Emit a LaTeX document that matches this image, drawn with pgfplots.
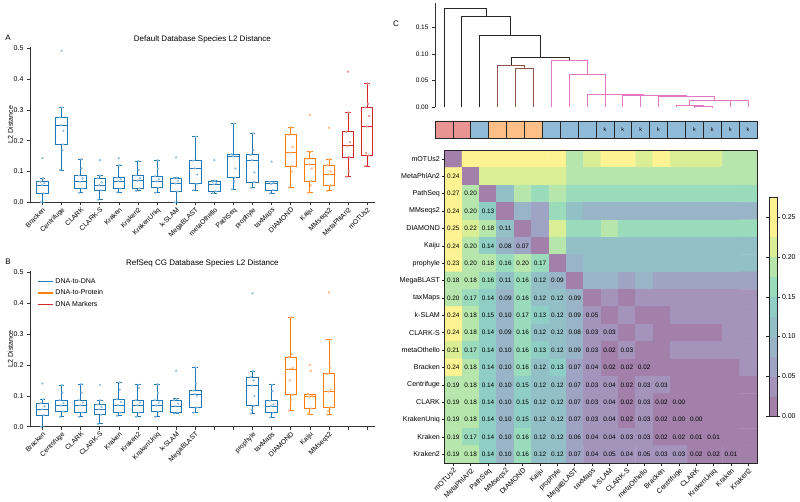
\documentclass[border=0pt]{standalone}
\usepackage{fontspec}
\setmainfont{Liberation Sans}
\usepackage{pgfplots}
\pgfplotsset{compat=1.18}
\usepgfplotslibrary{statistics}
\pgfkeys{/pgf/number format/assume math mode=true}
\definecolor{cblue}{HTML}{1F77B4}
\definecolor{corange}{HTML}{FF7F0E}
\definecolor{cred}{HTML}{D62728}
\definecolor{cbrown}{HTML}{8C564B}
\definecolor{cpink}{HTML}{E377C2}
\definecolor{sblue}{RGB}{143,187,217}
\definecolor{sorange}{RGB}{255,191,134}
\definecolor{sred}{RGB}{234,147,147}
\definecolor{pblue}{RGB}{143,187,217}
\definecolor{porange}{RGB}{255,180,120}
\definecolor{pred}{RGB}{234,140,140}
\newcommand{\fs}[1]{\fontsize{#1}{#1}\selectfont}
\pgfplotsset{
  every axis/.append style={scale only axis, font=\fs{7}},
  every axis title shift=0pt,
  boxax/.style={
    xmin=-0.65, xmax=17.4, ymin=0, ymax=0.505,
    axis x line*=bottom, axis y line*=left,
    axis line style={black!80, line width=0.8pt},
    tick style={black!80, line width=0.6pt}, tick align=outside, major tick length=3pt,
    xtick={0,...,17}, ytick={0,0.1,0.2,0.3,0.4,0.5},
    yticklabel style={/pgf/number format/fixed, /pgf/number format/fixed zerofill, /pgf/number format/precision=1, font=\fs{7}},
    scaled y ticks=false,
    xticklabel style={rotate=45, anchor=north east, inner sep=1pt, font=\fs{6.8}},
    ylabel={L2 Distance},
    every axis y label/.style={at={(axis description cs:-0.057,0.5)}, rotate=90, anchor=center, font=\fs{7}},
    title style={font=\fs{8}},
    clip=false,
  },
  dend/.style={line width=0.9pt, #1},
}
\newcommand{\bx}[7]{\addplot[#1, line width=0.9pt, solid, mark=none, boxplot prepared={draw direction=y, draw position=#2, lower whisker=#3, lower quartile=#4, median=#5, upper quartile=#6, upper whisker=#7, box extend=0.6, whisker extend=0.3}] coordinates {};}
\begin{document}
\begin{tikzpicture}
\useasboundingbox (0,0) rectangle (800pt,502pt);
\node[font=\fs{8}] at (8pt,464pt) {A};
\node[font=\fs{8}] at (8pt,240pt) {B};
\node[font=\fs{8}] at (396pt,478pt) {C};
% ---------------- Panel A
\begin{axis}[boxax, at={(30pt,299.7pt)}, anchor=south west, width=344.8pt, height=155.5pt,
  title={Default Database Species L2 Distance},
  xticklabels={Bracken,Centrifuge,CLARK,CLARK-S,Kraken,Kraken2,KrakenUniq,k-SLAM,MegaBLAST,metaOthello,PathSeq,prophyle,taxMaps,DIAMOND,Kaiju,MMseqs2,MetaPhlAn2,mOTUs2}]
\bx{cblue}{0}{0}{0.029}{0.056}{0.067}{0.078}
\bx{cblue}{1}{0.105}{0.188}{0.251}{0.276}{0.308}
\bx{cblue}{2}{0.031}{0.045}{0.067}{0.087}{0.14}
\bx{cblue}{3}{0.008}{0.039}{0.056}{0.078}{0.087}
\bx{cblue}{4}{0.032}{0.045}{0.069}{0.08}{0.121}
\bx{cblue}{5}{0.037}{0.045}{0.07}{0.087}{0.134}
\bx{cblue}{6}{0.031}{0.047}{0.068}{0.085}{0.137}
\bx{cblue}{7}{0}{0.035}{0.061}{0.078}{0.08}
\bx{cblue}{8}{0.04}{0.06}{0.11}{0.135}{0.213}
\bx{cblue}{9}{0.029}{0.036}{0.058}{0.067}{0.07}
\bx{cblue}{10}{0.042}{0.08}{0.15}{0.156}{0.256}
\bx{cblue}{11}{0.047}{0.066}{0.137}{0.154}{0.224}
\bx{cblue}{12}{0.029}{0.04}{0.06}{0.067}{0.067}
\bx{corange}{13}{0.048}{0.118}{0.161}{0.219}{0.244}
\bx{corange}{14}{0.031}{0.069}{0.123}{0.142}{0.164}
\bx{corange}{15}{0.037}{0.055}{0.091}{0.12}{0.14}
\bx{cred}{16}{0.083}{0.147}{0.183}{0.229}{0.292}
\bx{cred}{17}{0.118}{0.152}{0.246}{0.308}{0.386}
\addplot[only marks, mark=*, mark size=0.9pt, color=pblue] coordinates {
(-0.08,0) (0.07,0.029) (-0.03,0.056) (0.1,0.062) (-0.1,0.067) (0.03,0.078) (0,0.143)
(0.92,0.105) (1.07,0.188) (0.97,0.251) (1.1,0.232) (0.9,0.276) (1.03,0.308) (1,0.492) (1.05,0.17)
(1.92,0.031) (2.07,0.045) (1.97,0.067) (2.1,0.077) (1.9,0.087) (2.03,0.14) (2.05,0.11)
(2.92,0.008) (3.07,0.039) (2.97,0.056) (3.1,0.065) (2.9,0.078) (3.03,0.087) (3,0.137)
(3.92,0.032) (4.07,0.045) (3.97,0.069) (4.1,0.075) (3.9,0.08) (4.03,0.121) (4,0.143)
(4.92,0.037) (5.07,0.045) (4.97,0.07) (5.1,0.078) (4.9,0.087) (5.03,0.134) (5.05,0.105)
(5.92,0.031) (6.07,0.047) (5.97,0.068) (6.1,0.075) (5.9,0.085) (6.03,0.137) (6.05,0.108)
(6.92,0) (7.07,0.035) (6.97,0.061) (7.1,0.07) (6.9,0.078) (7.03,0.08) (7,0.146)
(7.92,0.04) (8.07,0.06) (7.97,0.11) (8.1,0.09) (7.9,0.135) (8.03,0.213)
(8.92,0.029) (9.07,0.036) (8.97,0.058) (9.1,0.062) (8.9,0.067) (9.03,0.07) (9,0.137)
(9.92,0.042) (10.07,0.08) (9.97,0.15) (10.1,0.11) (9.9,0.156) (10.03,0.256) (10.05,0.068)
(10.92,0.047) (11.07,0.066) (10.97,0.137) (11.1,0.097) (10.9,0.154) (11.03,0.224) (11.05,0.17)
(11.92,0.029) (12.07,0.04) (11.97,0.06) (12.1,0.063) (11.9,0.067) (12,0.132)};
\addplot[only marks, mark=*, mark size=0.9pt, color=porange] coordinates {
(12.92,0.048) (13.07,0.118) (12.97,0.161) (13.1,0.18) (12.9,0.219) (13.03,0.244) (13.05,0.1)
(13.92,0.031) (14.07,0.069) (13.97,0.123) (14.1,0.11) (13.9,0.142) (14.03,0.164) (14,0.284) (14.05,0.055)
(14.92,0.037) (15.07,0.055) (14.97,0.091) (15.1,0.1) (14.9,0.12) (15.03,0.14) (15,0.242)};
\addplot[only marks, mark=*, mark size=0.9pt, color=pred] coordinates {
(15.92,0.083) (16.07,0.147) (15.97,0.183) (16.1,0.195) (15.9,0.229) (16.03,0.292) (16,0.424) (16.05,0.1)
(16.92,0.118) (17.07,0.152) (16.97,0.246) (17.1,0.28) (16.9,0.308) (17.03,0.386) (17.05,0.32) (16.95,0.16)};
\end{axis}
% ---------------- Panel B
\begin{axis}[boxax, at={(30pt,75.3pt)}, anchor=south west, width=344.8pt, height=155.9pt,
  title={RefSeq CG Database Species L2 Distance},
  xticklabels={Bracken,Centrifuge,CLARK,CLARK-S,Kraken,Kraken2,KrakenUniq,k-SLAM,MegaBLAST,{},{},prophyle,taxMaps,DIAMOND,Kaiju,MMseqs2,{},{}},
  legend style={at={(0.02,0.965)}, anchor=north west, draw=none, fill=none, font=\fs{7}, row sep=1pt, inner sep=0pt, cells={anchor=west}},
  legend image code/.code={\draw[#1, line width=1.4pt] (0pt,0pt) -- (15pt,0pt);}]
\addlegendimage{cblue}\addlegendentry{DNA-to-DNA}
\addlegendimage{corange}\addlegendentry{DNA-to-Protein}
\addlegendimage{cred}\addlegendentry{DNA Markers}
\bx{cblue}{0}{0}{0.038}{0.056}{0.076}{0.089}
\bx{cblue}{1}{0.032}{0.049}{0.068}{0.086}{0.135}
\bx{cblue}{2}{0.032}{0.046}{0.069}{0.086}{0.138}
\bx{cblue}{3}{0.009}{0.039}{0.056}{0.072}{0.086}
\bx{cblue}{4}{0.035}{0.046}{0.07}{0.089}{0.143}
\bx{cblue}{5}{0.032}{0.046}{0.07}{0.086}{0.136}
\bx{cblue}{6}{0.032}{0.048}{0.069}{0.086}{0.138}
\bx{cblue}{7}{0.043}{0.046}{0.067}{0.086}{0.09}
\bx{cblue}{8}{0.045}{0.063}{0.106}{0.117}{0.192}
\bx{cblue}{11}{0.043}{0.068}{0.133}{0.161}{0.18}
\bx{cblue}{12}{0.03}{0.045}{0.067}{0.084}{0.136}
\bx{corange}{13}{0.052}{0.103}{0.187}{0.225}{0.354}
\bx{corange}{14}{0.041}{0.059}{0.097}{0.106}{0.106}
\bx{corange}{15}{0.039}{0.063}{0.114}{0.171}{0.281}
\addplot[only marks, mark=*, mark size=0.9pt, color=pblue] coordinates {
(-0.08,0) (0.07,0.038) (-0.03,0.056) (0.1,0.066) (-0.1,0.076) (0.03,0.089) (0,0.14)
(0.92,0.032) (1.07,0.049) (0.97,0.068) (1.1,0.077) (0.9,0.086) (1.03,0.135) (1.05,0.11)
(1.92,0.032) (2.07,0.046) (1.97,0.069) (2.1,0.077) (1.9,0.086) (2.03,0.138) (2.05,0.11)
(2.92,0.009) (3.07,0.039) (2.97,0.056) (3.1,0.064) (2.9,0.072) (3.03,0.086) (3,0.135)
(3.92,0.035) (4.07,0.046) (3.97,0.07) (4.1,0.08) (3.9,0.089) (4.03,0.143) (4.05,0.12)
(4.92,0.032) (5.07,0.046) (4.97,0.07) (5.1,0.078) (4.9,0.086) (5.03,0.136) (5.05,0.125)
(5.92,0.032) (6.07,0.048) (5.97,0.069) (6.1,0.078) (5.9,0.086) (6.03,0.138) (6.05,0.108)
(6.92,0.043) (7.07,0.046) (6.97,0.067) (7.1,0.075) (6.9,0.086) (7.03,0.09) (7,0.181)
(7.92,0.045) (8.07,0.063) (7.97,0.106) (8.1,0.1) (7.9,0.117) (8.03,0.192) (8.05,0.14)
(10.92,0.043) (11.07,0.068) (10.97,0.133) (11.1,0.1) (10.9,0.161) (11.03,0.18) (11,0.432) (11.05,0.15) (10.95,0.055)
(11.92,0.03) (12.07,0.045) (11.97,0.067) (12.1,0.072) (11.9,0.084) (12.03,0.136) (12.05,0.115)};
\addplot[only marks, mark=*, mark size=0.9pt, color=porange] coordinates {
(12.92,0.052) (13.07,0.103) (12.97,0.187) (13.1,0.19) (12.9,0.225) (13.03,0.354) (13.05,0.235) (12.95,0.15) (13.02,0.087)
(13.92,0.041) (14.07,0.059) (13.97,0.097) (14.1,0.1) (13.9,0.106) (14,0.2) (14.05,0.181) (13.95,0.045)
(14.92,0.039) (15.07,0.063) (14.97,0.114) (15.1,0.12) (14.9,0.171) (15.03,0.281) (15,0.435) (15.05,0.19) (14.95,0.05)};
\end{axis}
% ---------------- Dendrogram
\begin{axis}[at={(435pt,394.7pt)}, anchor=south west, width=322pt, height=104pt,
  xmin=-0.5, xmax=17.5, ymin=0, ymax=0.195, clip=false,
  axis y line*=left, axis x line=none,
  axis line style={black!80, line width=0.8pt},
  tick style={black!80, line width=0.6pt}, tick align=outside, major tick length=3pt,
  ytick={0,0.05,0.1,0.15}, scaled y ticks=false,
  yticklabel style={/pgf/number format/fixed, /pgf/number format/fixed zerofill, /pgf/number format/precision=2, font=\fs{6.5}}]
\addplot[dend=black!85] coordinates {(0,0) (0,0.186) (2.35,0.186) (2.35,0.171)};
\addplot[dend=black!85] coordinates {(1,0) (1,0.171) (3.69,0.171) (3.69,0.1356)};
\addplot[dend=black!85] coordinates {(2,0) (2,0.1356) (5.38,0.1356) (5.38,0.093)};
\addplot[dend=black!85] coordinates {(3.75,0.079) (3.75,0.093) (7.01,0.093) (7.01,0.0875)};
\addplot[dend=cbrown] coordinates {(3,0) (3,0.079) (4.5,0.079) (4.5,0.0725)};
\addplot[dend=cbrown] coordinates {(4,0) (4,0.0725) (5,0.0725) (5,0)};
\addplot[dend=cpink] coordinates {(6,0) (6,0.0875) (8.02,0.0875) (8.02,0.0625)};
\addplot[dend=cpink] coordinates {(7,0) (7,0.0625) (9.04,0.0625) (9.04,0.025)};
\addplot[dend=cpink] coordinates {(8,0) (8,0.025) (10.07,0.025) (10.07,0.0245)};
\addplot[dend=cpink] coordinates {(9,0) (9,0.0245) (11.14,0.0245) (11.14,0.023)};
\addplot[dend=cpink] coordinates {(10,0) (10,0.023) (12.28,0.023) (12.28,0.0218)};
\addplot[dend=cpink] coordinates {(11,0) (11,0.0218) (13.56,0.0218) (13.56,0.0199)};
\addplot[dend=cpink] coordinates {(12,0) (12,0.0199) (15.125,0.0199) (15.125,0.0131)};
\addplot[dend=cpink] coordinates {(13.75,0.0043) (13.75,0.0131) (16.5,0.0131) (16.5,0.0122)};
\addplot[dend=cpink] coordinates {(16,0) (16,0.0122) (17,0.0122) (17,0)};
\addplot[dend=cpink] coordinates {(13,0) (13,0.0043) (14.5,0.0043) (14.5,0.001)};
\addplot[dend=cpink] coordinates {(14,0) (14,0.001) (15,0.001) (15,0)};
\end{axis}
% ---------------- Colour strip
\begin{axis}[at={(435pt,363.7pt)}, anchor=south west, width=322pt, height=17.3pt,
  xmin=-0.5, xmax=17.5, ymin=0, ymax=1, hide axis, clip=false]
\addplot[ybar, bar width=1, bar shift=0pt, draw=black!85, line width=0.7pt, fill=sred] coordinates {(0,1) (1,1)};
\addplot[ybar, bar width=1, bar shift=0pt, draw=black!85, line width=0.7pt, fill=sorange] coordinates {(3,1) (4,1) (5,1)};
\addplot[ybar, bar width=1, bar shift=0pt, draw=black!85, line width=0.7pt, fill=sblue] coordinates {(2,1) (6,1) (7,1) (8,1) (9,1) (10,1) (11,1) (12,1) (13,1) (14,1) (15,1) (16,1) (17,1)};
\addplot[draw=none, mark=none, nodes near coords, point meta=explicit symbolic, nodes near coords align={center},
  every node near coord/.append style={font=\fs{5.5}, inner sep=0pt}] coordinates {
(9,0.5)[k] (10,0.5)[k] (11,0.5)[k] (12,0.5)[k] (14,0.5)[k] (15,0.5)[k] (16,0.5)[k] (17,0.5)[k]};
\end{axis}
% ---------------- Heatmap
\begin{axis}[at={(444.6pt,39pt)}, anchor=south west, width=312.4pt, height=312.7pt,
  xmin=-0.5, xmax=17.5, ymin=-0.5, ymax=17.5, y dir=reverse, enlargelimits=false,
  axis on top, axis line style={black!85, line width=0.8pt},
  xtick={0,...,17}, ytick={0,...,17},
  xticklabels={mOTUs2,MetaPhlAn2,PathSeq,MMseqs2,DIAMOND,Kaiju,prophyle,MegaBLAST,taxMaps,k-SLAM,CLARK-S,metaOthello,Bracken,Centrifuge,CLARK,KrakenUniq,Kraken,Kraken2},
  yticklabels={mOTUs2,MetaPhlAn2,PathSeq,MMseqs2,DIAMOND,Kaiju,prophyle,MegaBLAST,taxMaps,k-SLAM,CLARK-S,metaOthello,Bracken,Centrifuge,CLARK,KrakenUniq,Kraken,Kraken2},
  tick pos=left, tick align=outside, major tick length=3pt, tick style={black!85, line width=0.6pt},
  xticklabel style={rotate=45, anchor=north east, inner sep=1pt, font=\fs{7.1}},
  yticklabel style={inner sep=1.5pt, font=\fs{7.1}},
  colormap={vir}{rgb255=(162,128,170) rgb255=(164,148,188) rgb255=(159,164,196) rgb255=(152,180,198) rgb255=(146,192,198) rgb255=(143,206,196) rgb255=(154,219,188) rgb255=(182,230,171) rgb255=(218,238,149) rgb255=(254,243,146) rgb255=(254,243,146)},
  colormap access=piecewise constant,
  point meta min=0, point meta max=0.2754,
  colorbar, colorbar shift/.style={},
  colorbar style={at={(parent axis.south east)}, anchor=south west, xshift=12pt, yshift=47pt,
    width=8.3pt, height=218.7pt, ytick={0,0.05,0.1,0.15,0.2,0.25},
    yticklabel style={/pgf/number format/fixed, /pgf/number format/fixed zerofill, /pgf/number format/precision=2, font=\fs{7}, inner sep=1.5pt},
    axis line style={black!85, line width=0.8pt}, tick align=outside, major tick length=3pt,
    tick style={black!85, line width=0.6pt}}]
\addplot[matrix plot*, mesh/cols=18, point meta=explicit] table[row sep=\\, x=c, y=r, meta=v]{
c r v\\
0 0 0\\1 0 0.2341\\2 0 0.2616\\3 0 0.2341\\4 0 0.2616\\5 0 0.2341\\6 0 0.2341\\7 0 0.179\\8 0 0.2066\\9 0 0.2341\\10 0 0.2341\\11 0 0.2066\\12 0 0.2341\\13 0 0.2066\\14 0 0.2066\\15 0 0.2066\\16 0 0.179\\17 0 0.179\\
0 1 0.24\\1 1 0\\2 1 0.2066\\3 1 0.2066\\4 1 0.2066\\5 1 0.2066\\6 1 0.2066\\7 1 0.179\\8 1 0.179\\9 1 0.179\\10 1 0.179\\11 1 0.179\\12 1 0.179\\13 1 0.179\\14 1 0.179\\15 1 0.179\\16 1 0.179\\17 1 0.179\\
0 2 0.27\\1 2 0.20\\2 2 0\\3 2 0.1239\\4 2 0.179\\5 2 0.1515\\6 2 0.179\\7 2 0.1515\\8 2 0.1515\\9 2 0.1515\\10 2 0.1515\\11 2 0.1515\\12 2 0.1515\\13 2 0.1515\\14 2 0.1515\\15 2 0.1515\\16 2 0.1515\\17 2 0.1515\\
0 3 0.24\\1 3 0.20\\2 3 0.13\\3 3 0\\4 3 0.0964\\5 3 0.0689\\6 3 0.1515\\7 3 0.1239\\8 3 0.0964\\9 3 0.0964\\10 3 0.0964\\11 3 0.0964\\12 3 0.0964\\13 3 0.0964\\14 3 0.0964\\15 3 0.0964\\16 3 0.0964\\17 3 0.0964\\
0 4 0.25\\1 4 0.22\\2 4 0.18\\3 4 0.11\\4 4 0\\5 4 0.0689\\6 4 0.2066\\7 4 0.1515\\8 4 0.1515\\9 4 0.179\\10 4 0.1515\\11 4 0.1515\\12 4 0.1515\\13 4 0.1515\\14 4 0.1515\\15 4 0.1515\\16 4 0.1515\\17 4 0.1515\\
0 5 0.24\\1 5 0.20\\2 5 0.14\\3 5 0.08\\4 5 0.07\\5 5 0\\6 5 0.179\\7 5 0.1239\\8 5 0.1239\\9 5 0.1239\\10 5 0.1239\\11 5 0.1239\\12 5 0.1239\\13 5 0.1239\\14 5 0.1239\\15 5 0.1239\\16 5 0.1239\\17 5 0.1239\\
0 6 0.23\\1 6 0.20\\2 6 0.18\\3 6 0.16\\4 6 0.20\\5 6 0.17\\6 6 0\\7 6 0.0964\\8 6 0.1239\\9 6 0.1239\\10 6 0.1239\\11 6 0.1239\\12 6 0.1239\\13 6 0.1239\\14 6 0.1239\\15 6 0.1239\\16 6 0.1239\\17 6 0.1239\\
0 7 0.18\\1 7 0.18\\2 7 0.16\\3 7 0.11\\4 7 0.16\\5 7 0.12\\6 7 0.09\\7 7 0\\8 7 0.0964\\9 7 0.0964\\10 7 0.0689\\11 7 0.0964\\12 7 0.0689\\13 7 0.0689\\14 7 0.0689\\15 7 0.0689\\16 7 0.0689\\17 7 0.0689\\
0 8 0.20\\1 8 0.17\\2 8 0.14\\3 8 0.09\\4 8 0.16\\5 8 0.12\\6 8 0.12\\7 8 0.09\\8 8 0\\9 8 0.0413\\10 8 0.0138\\11 8 0.0413\\12 8 0.0413\\13 8 0.0413\\14 8 0.0413\\15 8 0.0413\\16 8 0.0413\\17 8 0.0413\\
0 9 0.24\\1 9 0.18\\2 9 0.15\\3 9 0.10\\4 9 0.17\\5 9 0.13\\6 9 0.12\\7 9 0.09\\8 9 0.05\\9 9 0\\10 9 0.0413\\11 9 0.0138\\12 9 0.0138\\13 9 0.0413\\14 9 0.0413\\15 9 0.0413\\16 9 0.0413\\17 9 0.0413\\
0 10 0.24\\1 10 0.18\\2 10 0.14\\3 10 0.09\\4 10 0.16\\5 10 0.12\\6 10 0.12\\7 10 0.08\\8 10 0.027\\9 10 0.03\\10 10 0\\11 10 0.0413\\12 10 0.0138\\13 10 0.0138\\14 10 0.0138\\15 10 0.0138\\16 10 0.0413\\17 10 0.0413\\
0 11 0.21\\1 11 0.17\\2 11 0.14\\3 11 0.10\\4 11 0.16\\5 11 0.13\\6 11 0.12\\7 11 0.09\\8 11 0.03\\9 11 0.02\\10 11 0.03\\11 11 0\\12 11 0.0138\\13 11 0.0413\\14 11 0.0413\\15 11 0.0413\\16 11 0.0413\\17 11 0.0413\\
0 12 0.24\\1 12 0.18\\2 12 0.14\\3 12 0.10\\4 12 0.16\\5 12 0.12\\6 12 0.13\\7 12 0.07\\8 12 0.04\\9 12 0.02\\10 12 0.02\\11 12 0.02\\12 12 0\\13 12 0.0138\\14 12 0.0138\\15 12 0.0138\\16 12 0.0138\\17 12 0.0413\\
0 13 0.19\\1 13 0.18\\2 13 0.14\\3 13 0.10\\4 13 0.15\\5 13 0.12\\6 13 0.12\\7 13 0.07\\8 13 0.03\\9 13 0.04\\10 13 0.02\\11 13 0.03\\12 13 0.03\\13 13 0\\14 13 0.0138\\15 13 0.0138\\16 13 0.0138\\17 13 0.0138\\
0 14 0.19\\1 14 0.18\\2 14 0.14\\3 14 0.10\\4 14 0.15\\5 14 0.12\\6 14 0.12\\7 14 0.07\\8 14 0.03\\9 14 0.04\\10 14 0.02\\11 14 0.03\\12 14 0.02\\13 14 0.00\\14 14 0\\15 14 0.0138\\16 14 0.0138\\17 14 0.0138\\
0 15 0.19\\1 15 0.18\\2 15 0.14\\3 15 0.10\\4 15 0.15\\5 15 0.12\\6 15 0.12\\7 15 0.07\\8 15 0.03\\9 15 0.04\\10 15 0.02\\11 15 0.03\\12 15 0.02\\13 15 0.00\\14 15 0.00\\15 15 0\\16 15 0.0138\\17 15 0.0138\\
0 16 0.19\\1 16 0.17\\2 16 0.14\\3 16 0.10\\4 16 0.16\\5 16 0.12\\6 16 0.12\\7 16 0.06\\8 16 0.04\\9 16 0.04\\10 16 0.03\\11 16 0.03\\12 16 0.02\\13 16 0.02\\14 16 0.01\\15 16 0.01\\16 16 0\\17 16 0.0138\\
0 17 0.19\\1 17 0.18\\2 17 0.14\\3 17 0.10\\4 17 0.16\\5 17 0.12\\6 17 0.12\\7 17 0.07\\8 17 0.04\\9 17 0.05\\10 17 0.04\\11 17 0.05\\12 17 0.03\\13 17 0.03\\14 17 0.02\\15 17 0.02\\16 17 0.01\\17 17 0\\
};
\addplot[draw=none, mark=none, nodes near coords, point meta=explicit symbolic, nodes near coords align={center},
  every node near coord/.append style={font=\fs{6.4}, inner sep=0pt}] coordinates {
(0,1)[0.24]
(0,2)[0.27] (1,2)[0.20]
(0,3)[0.24] (1,3)[0.20] (2,3)[0.13]
(0,4)[0.25] (1,4)[0.22] (2,4)[0.18] (3,4)[0.11]
(0,5)[0.24] (1,5)[0.20] (2,5)[0.14] (3,5)[0.08] (4,5)[0.07]
(0,6)[0.23] (1,6)[0.20] (2,6)[0.18] (3,6)[0.16] (4,6)[0.20] (5,6)[0.17]
(0,7)[0.18] (1,7)[0.18] (2,7)[0.16] (3,7)[0.11] (4,7)[0.16] (5,7)[0.12] (6,7)[0.09]
(0,8)[0.20] (1,8)[0.17] (2,8)[0.14] (3,8)[0.09] (4,8)[0.16] (5,8)[0.12] (6,8)[0.12] (7,8)[0.09]
(0,9)[0.24] (1,9)[0.18] (2,9)[0.15] (3,9)[0.10] (4,9)[0.17] (5,9)[0.13] (6,9)[0.12] (7,9)[0.09] (8,9)[0.05]
(0,10)[0.24] (1,10)[0.18] (2,10)[0.14] (3,10)[0.09] (4,10)[0.16] (5,10)[0.12] (6,10)[0.12] (7,10)[0.08] (8,10)[0.03] (9,10)[0.03]
(0,11)[0.21] (1,11)[0.17] (2,11)[0.14] (3,11)[0.10] (4,11)[0.16] (5,11)[0.13] (6,11)[0.12] (7,11)[0.09] (8,11)[0.03] (9,11)[0.02] (10,11)[0.03]
(0,12)[0.24] (1,12)[0.18] (2,12)[0.14] (3,12)[0.10] (4,12)[0.16] (5,12)[0.12] (6,12)[0.13] (7,12)[0.07] (8,12)[0.04] (9,12)[0.02] (10,12)[0.02] (11,12)[0.02]
(0,13)[0.19] (1,13)[0.18] (2,13)[0.14] (3,13)[0.10] (4,13)[0.15] (5,13)[0.12] (6,13)[0.12] (7,13)[0.07] (8,13)[0.03] (9,13)[0.04] (10,13)[0.02] (11,13)[0.03] (12,13)[0.03]
(0,14)[0.19] (1,14)[0.18] (2,14)[0.14] (3,14)[0.10] (4,14)[0.15] (5,14)[0.12] (6,14)[0.12] (7,14)[0.07] (8,14)[0.03] (9,14)[0.04] (10,14)[0.02] (11,14)[0.03] (12,14)[0.02] (13,14)[0.00]
(0,15)[0.19] (1,15)[0.18] (2,15)[0.14] (3,15)[0.10] (4,15)[0.15] (5,15)[0.12] (6,15)[0.12] (7,15)[0.07] (8,15)[0.03] (9,15)[0.04] (10,15)[0.02] (11,15)[0.03] (12,15)[0.02] (13,15)[0.00] (14,15)[0.00]
(0,16)[0.19] (1,16)[0.17] (2,16)[0.14] (3,16)[0.10] (4,16)[0.16] (5,16)[0.12] (6,16)[0.12] (7,16)[0.06] (8,16)[0.04] (9,16)[0.04] (10,16)[0.03] (11,16)[0.03] (12,16)[0.02] (13,16)[0.02] (14,16)[0.01] (15,16)[0.01]
(0,17)[0.19] (1,17)[0.18] (2,17)[0.14] (3,17)[0.10] (4,17)[0.16] (5,17)[0.12] (6,17)[0.12] (7,17)[0.07] (8,17)[0.04] (9,17)[0.05] (10,17)[0.04] (11,17)[0.05] (12,17)[0.03] (13,17)[0.03] (14,17)[0.02] (15,17)[0.02] (16,17)[0.01]};
\end{axis}
\end{tikzpicture}
\end{document}
